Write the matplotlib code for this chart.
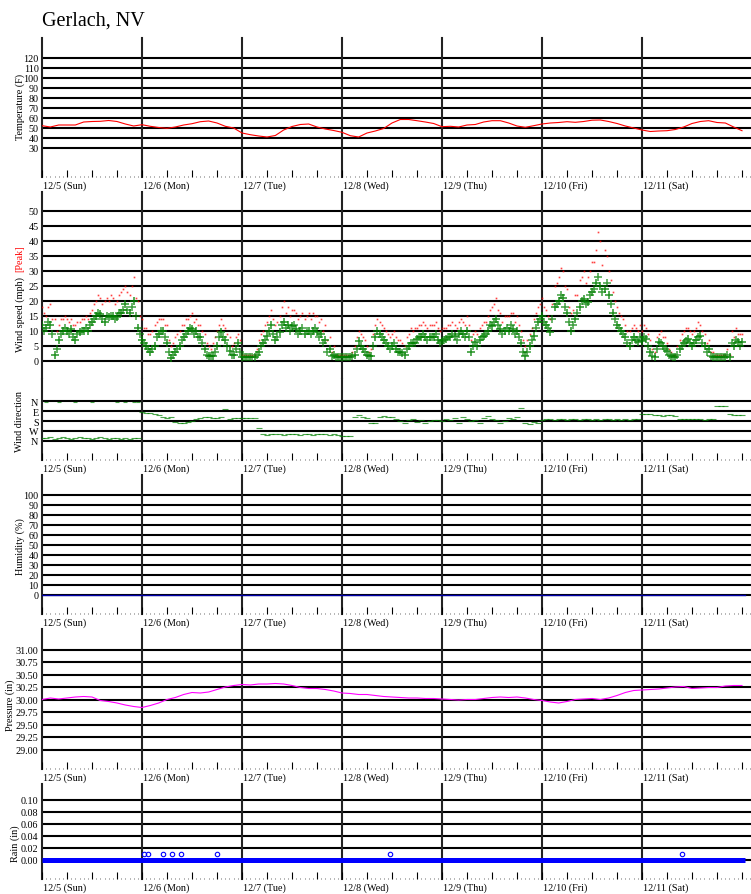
import numpy as np
import matplotlib
matplotlib.use("Agg")
import matplotlib.pyplot as plt
from matplotlib.ticker import MultipleLocator

plt.rcParams['font.family'] = ['Liberation Serif', 'DejaVu Serif']

# ---- data ----
title = "Gerlach, NV"
day_labels = ["12/5 (Sun)", "12/6 (Mon)", "12/7 (Tue)", "12/8 (Wed)", "12/9 (Thu)", "12/10 (Fri)", "12/11 (Sat)"]

# temperature (F), every 2 hours from 12/5 00:00
temp_f = [52.3, 51, 53, 53, 53, 56, 56.5, 56.7, 57.5, 56.5, 54, 52,
          53.3, 51.7, 50.5, 49.7, 51, 53, 54.3, 56.3, 57, 55, 51.7, 50,
          45, 43.3, 42, 41, 42.5, 48, 51.5, 53.5, 54, 51, 49, 47.5,
          45.7, 42.3, 41, 45, 47, 49.5, 55, 58.5, 58.5, 57.3, 56, 54.5,
          51.3, 51.7, 51, 53, 53.5, 56, 57.3, 57.3, 55, 52, 50.7, 52.3,
          54, 55, 55.5, 56.3, 55.7, 56.5, 57.8, 58, 56.5, 54.5, 52, 50,
          48, 46.5, 47, 47.3, 48.5, 51, 54.5, 56.5, 57.3, 55.5, 55, 51, 47.3]

# pressure (in), every 2 hours
press_in = [30.00, 30.03, 30.01, 30.03, 30.05, 30.06, 30.05, 29.98, 29.96, 29.93, 29.89, 29.86,
            29.84, 29.88, 29.93, 30.00, 30.04, 30.10, 30.14, 30.13, 30.15, 30.20, 30.25, 30.28,
            30.30, 30.29, 30.31, 30.31, 30.32, 30.31, 30.28, 30.24, 30.22, 30.22, 30.20, 30.17,
            30.13, 30.12, 30.10, 30.10, 30.08, 30.06, 30.05, 30.04, 30.03, 30.03, 30.02, 30.02,
            30.01, 30.00, 29.99, 30.00, 30.00, 30.02, 30.04, 30.05, 30.04, 30.05, 30.03, 30.00,
            29.98, 29.95, 29.93, 29.96, 30.00, 30.01, 30.02, 30.00, 30.03, 30.08, 30.14, 30.18,
            30.19, 30.20, 30.21, 30.23, 30.25, 30.26, 30.22, 30.23, 30.24, 30.24, 30.27, 30.28, 30.28]

# sustained wind (mph) on the hour
wind_mph = [12, 11, 12, 2, 7, 10, 10, 10.5, 7, 9.5, 10, 10, 13, 15, 15.7, 13, 14.5, 15, 14.5, 16, 19, 16, 20, 11,
            7, 5, 3, 5, 9, 10, 6, 1, 3, 5, 8, 10, 10.7, 10, 8, 4, 1.8, 1.8, 5, 9.5, 7, 3.4, 2, 6,
            1.2, 1.2, 1.2, 1.2, 3, 6, 8.4, 12, 7, 9.5, 13, 12, 11.8, 10.7, 10, 9, 10, 10, 9.5, 9, 7, 4, 2, 1.2,
            1.2, 1.2, 1.2, 2, 6.8, 4, 2, 1.8, 8, 9, 7, 5, 5, 4, 3, 2, 5, 6, 7.3, 8, 8, 8, 8, 7,
            6.8, 7.3, 8, 8.4, 9, 9, 10, 3, 6.2, 7, 8.4, 10, 11.8, 14, 10.7, 10, 10, 10.7, 10, 6, 1.8, 5, 8.4, 12.9,
            15, 12, 9.5, 18, 20, 21, 16, 10, 14, 18, 20.7, 19.6, 22.9, 26, 25, 24, 22, 16, 12, 10, 8, 5, 8, 6.2,
            6.5, 7.3, 3, 1.2, 6.2, 5, 3.4, 1.5, 1.2, 4, 6, 7.3, 5, 7, 8.4, 5, 4, 1.2, 1.2, 1.2, 1.2, 1.2, 5, 6.2, 6.2]
# sustained wind (mph) on the half hour
wind_half = [10, 13, 9, 4, 9, 11, 9, 8, 9, 10, 11, 12, 14, 16, 14, 15, 15, 14, 16, 17, 17, 18, 15, 9,
             6, 4, 4, 8, 10, 8, 3, 2, 4, 7, 9, 11, 9, 8, 6, 2, 1.5, 3, 8, 8, 5, 2, 4, 3,
             1.2, 1.2, 1.2, 2, 5, 7, 10, 9, 8, 12, 11, 10, 12, 9, 11, 10, 9, 11, 8, 6, 3, 1.5, 1.2, 1.2,
             1.2, 1.2, 1.5, 4, 5, 3, 1.5, 5, 10, 8, 6, 4, 6, 3, 2.5, 4, 6, 6, 8, 9, 7, 8, 9, 6,
             7, 8, 9, 7, 10, 8, 8, 5, 5, 8, 9, 12, 13, 12, 9, 11, 12, 9, 8, 3, 3, 7, 11, 14,
             13, 11, 14, 19, 22, 18, 13, 12, 16, 20, 19, 22, 24, 28, 23, 26, 19, 14, 11, 9, 6, 7, 7, 8,
             8, 5, 1.5, 4, 6, 4, 2, 1.2, 2, 5, 6.5, 6, 6, 8, 6, 3, 1.5, 1.2, 1.2, 1.2, 2, 6, 7, 5]

# peak gust (mph) on the hour / half hour
peak_mph = [18, 15, 19, 14, 12, 14, 14, 14, 12, 13, 14, 14, 17, 20, 21, 20, 20, 21, 20, 23, 25, 22, 28, 20,
            14, 11, 9, 12, 14, 14, 12, 5, 8, 10, 12, 14, 16, 14, 12, 9, 5, 6, 10, 14, 11, 8, 6, 9,
            2, 2, 2, 2, 7, 10, 13, 17, 12, 15, 20, 18, 17, 16, 15, 14, 16, 16, 15, 14, 12, 8, 5, 2,
            2, 2, 2, 5, 10, 8, 5, 4, 12, 13, 11, 9, 9, 8, 7, 5, 9, 10, 11, 12, 12, 12, 12, 11,
            11, 11, 12, 12, 13, 13, 15, 7, 10, 11, 13, 15, 18, 21, 16, 15, 15, 16, 15, 10, 5, 9, 14, 18,
            21, 17, 14, 25, 28, 30, 24, 16, 22, 27, 30, 28, 33, 37, 40, 37, 30, 23, 18, 15, 12, 10, 12, 10,
            10, 11, 7, 3, 9, 8, 6, 3, 2, 7, 10, 11, 9, 11, 12, 9, 7, 3, 2, 2, 2, 2, 8, 9, 9]
peak_half = [16, 18, 14, 10, 14, 15, 13, 12, 13, 14, 15, 16, 19, 22, 19, 21, 22, 19, 22, 24, 23, 25, 21, 15,
             11, 9, 10, 13, 14, 12, 7, 6, 9, 12, 14, 15, 13, 12, 10, 6, 4, 8, 12, 12, 9, 5, 8, 7,
             2, 2, 2, 4, 9, 12, 15, 14, 13, 18, 16, 15, 17, 14, 16, 15, 14, 15, 13, 10, 7, 3, 2, 2,
             2, 2, 3, 8, 9, 7, 3, 9, 14, 12, 10, 8, 10, 7, 6, 8, 11, 11, 12, 13, 11, 12, 13, 10,
             11, 12, 13, 11, 14, 12, 12, 9, 9, 12, 13, 17, 19, 17, 13, 15, 16, 13, 12, 7, 7, 11, 16, 19,
             18, 15, 19, 26, 31, 25, 18, 17, 22, 28, 26, 30, 33, 43, 32, 35, 27, 20, 16, 14, 10, 11, 11, 12,
             12, 9, 4, 8, 10, 8, 4, 2, 5, 9, 11, 10, 10, 13, 10, 6, 3, 2, 2, 2, 4, 10, 11, 9]

# hourly wind direction (deg, N=0 top ... N=360 bottom)
wind_dir = [330, 335, 320, 340, 330, 325, 335, 340, 330, 320, 335, 330, 340, 335, 325, 330, 340, 335, 330, 345, 335, 340, 330, 335,
            100, 105, 110, 120, 125, 140, 150, 145, 190, 200, 195, 190, 180, 165, 150, 140, 145, 150, 155, 140, 75, 160, 155, 150,
            155, 155, 156, 156, 240, 300, 305, 300, 295, 300, 305, 300, 300, 295, 305, 300, 300, 305, 300, 295, 300, 305, 300, 310,
            315, 315, 315, 140, 130, 140, 150, 200, 195, 140, 135, 140, 145, 165, 180, 200, 170, 165, 190, 175, 200, 180, 170, 175,
            180, 165, 175, 150, 200, 140, 160, 180, 175, 200, 150, 135, 165, 170, 200, 180, 150, 160, 140, 60, 200, 210, 190, 200,
            170, 160, 165, 170, 160, 165, 170, 165, 160, 170, 165, 160, 170, 165, 175, 160, 165, 170, 160, 170, 165, 175, 160, 165,
            120, 115, 120, 125, 130, 135, 130, 130, 135, 160, 165, 160, 165, 160, 165, 170, 160, 165, 45, 45, 45, 120, 125, 130, 130]
# extra north readings on 12/5
dir_extra_hour = [1, 4, 8, 12, 18, 20, 22, 23]
dir_extra_deg = [5, 5, 10, 5, 5, 10, 5, 5]

humidity_pct = [0, 0]
rain_in = [0.0, 0.0]
rain_tip_hour = [24.5, 25.4, 29, 31.3, 33.4, 42, 83.5, 153.6]
rain_tip_in = [0.01, 0.01, 0.01, 0.01, 0.01, 0.01, 0.01, 0.01]

t2 = np.arange(len(temp_f)) / 12.0
t1 = np.arange(len(wind_mph)) / 24.0
th = (np.arange(len(wind_half)) + 0.5) / 24.0
t_end = 7.03

# ---- layout (pixels) ----
W, H = 751, 895
fig = plt.figure(figsize=(W / 100, H / 100), dpi=100)
XMAX = 7.09
FS = 7.3

def mkax(top, bot):
    return fig.add_axes([42 / W, 1 - bot / H, 1 - 42 / W, (bot - top) / H])

def style(ax, yticks, ylim, labels=None, xlabels=True, ticks=True):
    ax.set_xlim(0, XMAX)
    ax.set_ylim(*ylim)
    for s in ax.spines.values():
        s.set_visible(False)
    for v in yticks:
        ax.axhline(v, color="black", lw=1.5, zorder=1)
    for d in range(7):
        ax.axvline(d, color="#222222", lw=1.5, zorder=1, clip_on=False)
    ax.set_yticks(yticks)
    ax.set_yticklabels(labels if labels else [str(v) for v in yticks], fontsize=FS)
    ax.tick_params(axis="y", length=0, pad=2.5)
    if ticks:
        ax.xaxis.set_major_locator(MultipleLocator(0.25))
        ax.xaxis.set_minor_locator(MultipleLocator(1 / 24))
        ax.tick_params(axis="x", which="major", direction="in", length=5, width=0.8, labelbottom=False)
        ax.tick_params(axis="x", which="minor", direction="in", length=0.8, width=0.6, color="#555555")
    else:
        ax.set_xticks([])
    if xlabels:
        for d, lab in enumerate(day_labels):
            ax.annotate(lab, xy=(d, 0), xycoords=("data", "axes fraction"),
                        xytext=(0.8, -2.5), textcoords="offset points",
                        fontsize=FS, va="top", ha="left", annotation_clip=False)

# temperature
ax = mkax(39, 178)
style(ax, list(range(30, 130, 10)), (1, 140))
ax.plot(t2, temp_f, color="red", lw=0.8, zorder=3)
fig.text(20 / W, 1 - 107 / H, "Temperature (F)", rotation=90, fontsize=FS, ha="center", va="center")

# wind speed
ax = mkax(193, 380)
style(ax, list(range(0, 55, 5)), (-6, 56.3), xlabels=False, ticks=False)
ax.plot(t1, peak_mph, ls="none", marker="s", ms=1.2, mew=0, color="red", alpha=0.75, zorder=3)
ax.plot(th, peak_half, ls="none", marker="s", ms=1.2, mew=0, color="red", alpha=0.75, zorder=3)
ax.plot(th, wind_half, ls="none", marker="+", ms=5.5, mew=1.1, color="green", alpha=0.75, zorder=4)
ax.plot(t1, wind_mph, ls="none", marker="+", ms=5.5, mew=1.1, color="green", alpha=0.85, zorder=4)
fig.text(20 / W, 1 - 315 / H, "Wind speed (mph)", rotation=90, fontsize=FS, ha="center", va="center")
fig.text(20 / W, 1 - 259 / H, "[Peak]", rotation=90, fontsize=FS, ha="center", va="center", color="red")

# wind direction
ax = mkax(380, 461)
style(ax, [0, 90, 180, 270, 360], (531, -198), labels=["N", "E", "S", "W", "N"])
ax.plot(t1, wind_dir, ls="none", marker="_", ms=4.5, mew=0.8, color="green", alpha=0.7, zorder=3)
ax.plot(np.array(dir_extra_hour) / 24.0, dir_extra_deg, ls="none", marker="_", ms=3.5, mew=0.8,
        color="green", alpha=0.7, zorder=3)
fig.text(20 / W, 1 - 422 / H, "Wind direction", rotation=90, fontsize=FS, ha="center", va="center")

# humidity
ax = mkax(476, 615)
style(ax, list(range(0, 110, 10)), (-19.3, 119.7))
ax.plot([0, t_end], humidity_pct, color="#0000aa", lw=1, zorder=3)
fig.text(20 / W, 1 - 547 / H, "Humidity (%)", rotation=90, fontsize=FS, ha="center", va="center")

# pressure
ax = mkax(630, 770)
pt = [29.0, 29.25, 29.5, 29.75, 30.0, 30.25, 30.5, 30.75, 31.0]
style(ax, pt, (28.61, 31.41), labels=["%.2f" % v for v in pt])
ax.plot(t2, press_in, color="magenta", lw=0.8, zorder=3)
fig.text(10 / W, 1 - 705 / H, "Pressure (in)", rotation=90, fontsize=FS, ha="center", va="center")

# rain
ax = mkax(785, 880)
rt = [0.0, 0.02, 0.04, 0.06, 0.08, 0.10]
style(ax, rt, (-0.032, 0.126), labels=["%.2f" % v for v in rt])
ax.plot([0, t_end], rain_in, color="blue", lw=3.6, solid_capstyle="butt", zorder=3)
ax.plot(np.array(rain_tip_hour) / 24.0, rain_tip_in, ls="none", marker="o", ms=3.2,
        mfc="none", mec="blue", mew=0.8, zorder=3)
fig.text(15 / W, 1 - 844 / H, "Rain (in)", rotation=90, fontsize=FS, ha="center", va="center")

fig.text(42 / W, 1 - 26 / H, title, fontsize=14.5, ha="left", va="baseline")

fig.savefig("out.png", dpi=100)
